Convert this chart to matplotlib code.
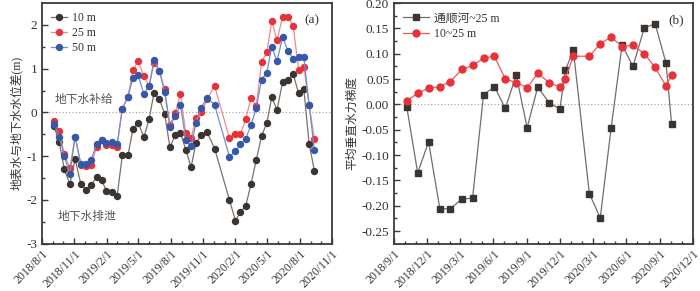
import pandas as pd
import matplotlib
matplotlib.use('Agg')
import matplotlib.pyplot as plt
import matplotlib.dates as mdates

plt.rcParams['font.family'] = ['Liberation Serif', 'Noto Sans CJK SC']
plt.rcParams['axes.unicode_minus'] = False

# (a) surface water minus groundwater level, semi-monthly
dates_a = ['2018-09-04', '2018-09-19', '2018-10-03', '2018-10-19', '2018-11-03', '2018-11-19',
           '2018-12-04', '2018-12-19', '2019-01-03', '2019-01-17', '2019-01-31', '2019-02-16',
           '2019-03-02', '2019-03-17', '2019-04-02', '2019-04-16', '2019-05-01', '2019-05-17',
           '2019-06-01', '2019-06-15', '2019-06-30', '2019-07-15', '2019-07-30', '2019-08-14',
           '2019-08-29', '2019-09-13', '2019-09-28', '2019-10-12', '2019-10-27', '2019-11-12',
           '2019-12-04', '2020-01-15', '2020-02-01', '2020-02-15', '2020-03-01', '2020-03-16',
           '2020-03-31', '2020-04-15', '2020-04-30', '2020-05-14', '2020-05-29', '2020-06-14',
           '2020-06-29', '2020-07-14', '2020-07-29', '2020-08-13', '2020-08-28', '2020-09-12']
diff_10m = [-0.31, -0.68, -1.29, -1.64, -1.07, -1.63, -1.77, -1.66, -1.47, -1.55,
            -1.79, -1.81, -1.92, -0.98, -0.98, -0.38, -0.23, -0.57, -0.15, 0.45,
            0.30, -0.03, -0.79, -0.52, -0.47, -0.85, -1.25, -0.70, -0.52, -0.44,
            -0.83, -2.00, -2.48, -2.27, -2.14, -1.64, -1.09, -0.54, -0.24, 0.35,
            0.06, 0.70, 0.74, 0.88, 0.44, 0.53, -0.71, -1.33]
diff_25m = [-0.20, -0.43, -0.95, -1.27, -0.55, -1.19, -1.23, -1.19, -0.79, -0.64,
            -0.74, -0.75, -0.78, 0.09, 0.36, 0.97, 1.17, 0.83, 0.60, 1.13,
            0.95, 0.53, -0.28, -0.02, 0.43, -0.48, -0.59, -0.12, 0.00, 0.30,
            0.60, -0.59, -0.50, -0.50, -0.16, 0.33, 0.15, 1.15, 1.37, 2.09,
            1.65, 2.19, 2.19, 1.97, 0.98, 1.05, 0.17, -0.60]
diff_50m = [-0.27, -0.55, -0.99, -1.40, -0.55, -1.17, -1.17, -1.08, -0.71, -0.64,
            -0.69, -0.68, -0.73, 0.09, 0.36, 0.79, 0.85, 0.42, 0.61, 1.20,
            0.95, 0.47, -0.33, -0.07, 0.17, -0.63, -0.76, -0.25, 0.11, 0.34,
            0.17, -1.01, -0.89, -0.73, -0.60, -0.29, 0.10, 0.75, 0.91, 1.50,
            1.17, 1.73, 1.40, 1.23, 1.26, 1.26, 0.17, -0.86]

# (b) mean vertical hydraulic gradient, roughly monthly
dates_b = ['2018-10-06', '2018-11-05', '2018-12-05', '2019-01-05', '2019-02-03', '2019-03-06',
           '2019-04-05', '2019-05-05', '2019-06-04', '2019-07-04', '2019-08-03', '2019-09-02',
           '2019-10-01', '2019-11-02', '2019-12-01', '2019-12-16', '2020-01-07', '2020-02-20',
           '2020-03-21', '2020-04-20', '2020-05-20', '2020-06-19', '2020-07-20', '2020-08-19',
           '2020-09-18', '2020-10-03']
grad_river = [-0.005, -0.135, -0.074, -0.206, -0.206, -0.187, -0.185, 0.019, 0.035, -0.008,
              0.058, -0.046, 0.034, 0.003, -0.009, 0.067, 0.107, -0.176, -0.224, -0.046,
              0.117, 0.075, 0.151, 0.159, 0.081, -0.038]
grad_10_25 = [0.007, 0.022, 0.032, 0.035, 0.045, 0.069, 0.077, 0.091, 0.095, 0.050,
              0.043, 0.033, 0.061, 0.043, 0.034, 0.051, 0.095, 0.095, 0.120, 0.133,
              0.114, 0.117, 0.100, 0.073, 0.036, 0.058]

ticks_a = ['2018-08-01', '2018-11-01', '2019-02-01', '2019-05-01', '2019-08-01',
           '2019-11-01', '2020-02-01', '2020-05-01', '2020-08-01', '2020-11-01']
labels_a = ['2018/8/1', '2018/11/1', '2019/2/1', '2019/5/1', '2019/8/1',
            '2019/11/1', '2020/2/1', '2020/5/1', '2020/8/1', '2020/11/1']
ticks_b = ['2018-09-01', '2018-12-01', '2019-03-01', '2019-06-01', '2019-09-01',
           '2019-12-01', '2020-03-01', '2020-06-01', '2020-09-01', '2020-12-01']
labels_b = ['2018/9/1', '2018/12/1', '2019/3/1', '2019/6/1', '2019/9/1',
            '2019/12/1', '2020/3/1', '2020/6/1', '2020/9/1', '2020/12/1']

SPINE = '#3a3a3a'
TXT = '#333333'


def style_axes(ax, ticks, labels):
    tk = pd.to_datetime(ticks)
    ax.set_xlim(tk[0], tk[-1])
    ax.set_xticks(tk)
    ax.set_xticklabels(labels, rotation=45, ha='right', rotation_mode='anchor', fontsize=8.5, color=TXT)
    ax.xaxis.set_minor_locator(mdates.MonthLocator())
    ax.tick_params(which='both', direction='in', top=False, right=False, colors=SPINE,
                   labelcolor=TXT, width=1)
    ax.tick_params(which='major', length=4, labelsize=9.5)
    ax.tick_params(axis='x', which='major', labelsize=8.5, pad=3)
    ax.tick_params(which='minor', length=2)
    for s in ax.spines.values():
        s.set_color(SPINE)
        s.set_linewidth(1.3)


fig = plt.figure(figsize=(7, 2.91), dpi=100)

# ---- (a)
ax1 = fig.add_axes([0.06, 0.1625, 0.4143, 0.827])
da = pd.to_datetime(dates_a)
ax1.axhline(0, color='#a89a9a', lw=0.8, ls=(0, (1, 2)), zorder=1)
ax1.plot(da, diff_10m, '-o', color='#7a716c', mfc='#3b3532', mec='#3b3532', ms=4.3, lw=0.9, label='10 m')
ax1.plot(da, diff_25m, '-o', color='#f08a8a', mfc='#e8323a', mec='#e8323a', ms=4.3, lw=0.9, label='25 m')
ax1.plot(da, diff_50m, '-o', color='#6f8fd2', mfc='#3658a8', mec='#3658a8', ms=4.3, lw=0.9, label='50 m')
ax1.set_ylim(-3, 2.5)
ax1.set_yticks([-3, -2, -1, 0, 1, 2])
ax1.set_yticks([-2.5, -1.5, -0.5, 0.5, 1.5], minor=True)
style_axes(ax1, ticks_a, labels_a)
ax1.set_ylabel('地表水与地下水水位差(m)', fontsize=8.5, color=TXT, labelpad=2)
ax1.legend(loc='upper left', frameon=False, fontsize=8.5, handlelength=1.3, handletextpad=0.4,
           labelspacing=0.25, borderaxespad=0.4, labelcolor=TXT)
ax1.text(0.955, 0.955, '(a)', transform=ax1.transAxes, ha='right', va='top', fontsize=9.5, color=TXT)
ax1.text(0.045, 0.597, '地下水补给', transform=ax1.transAxes, ha='left', va='center',
         fontsize=8.5, color='#555555')
ax1.text(0.055, 0.11, '地下水排泄', transform=ax1.transAxes, ha='left', va='center',
         fontsize=8.5, color='#555555')

# ---- (b)
ax2 = fig.add_axes([0.5629, 0.1625, 0.4271, 0.827])
db = pd.to_datetime(dates_b)
ax2.axhline(0, color='#a89a9a', lw=0.8, ls=(0, (1, 2)), zorder=1)
ax2.plot(db, grad_river, '-s', color='#6e6e6e', mfc='#3b3532', mec='#3b3532', ms=4.5, lw=0.9,
         label='通顺河~25 m')
ax2.plot(db, grad_10_25, '-o', color='#ec5a5a', mfc='#e8323a', mec='#e8323a', ms=5, lw=0.9,
         label='10~25 m')
ax2.set_ylim(-0.275, 0.2)
ax2.set_yticks([-0.25, -0.20, -0.15, -0.10, -0.05, 0.00, 0.05, 0.10, 0.15, 0.20])
ax2.set_yticklabels(['-0.25', '-0.20', '-0.15', '-0.10', '-0.05', '0.00', '0.05', '0.10', '0.15', '0.20'])
ax2.set_yticks([-0.225, -0.175, -0.125, -0.075, -0.025, 0.025, 0.075, 0.125, 0.175], minor=True)
style_axes(ax2, ticks_b, labels_b)
ax2.set_ylabel('平均垂直水力梯度', fontsize=8.5, color=TXT, labelpad=2)
ax2.legend(loc='upper left', frameon=False, fontsize=8.5, handlelength=2.2, handletextpad=0.4,
           labelspacing=0.3, borderaxespad=0.4, labelcolor=TXT)
ax2.text(0.97, 0.955, '(b)', transform=ax2.transAxes, ha='right', va='top', fontsize=9.5, color=TXT)

fig.savefig('out.png', dpi=100)
